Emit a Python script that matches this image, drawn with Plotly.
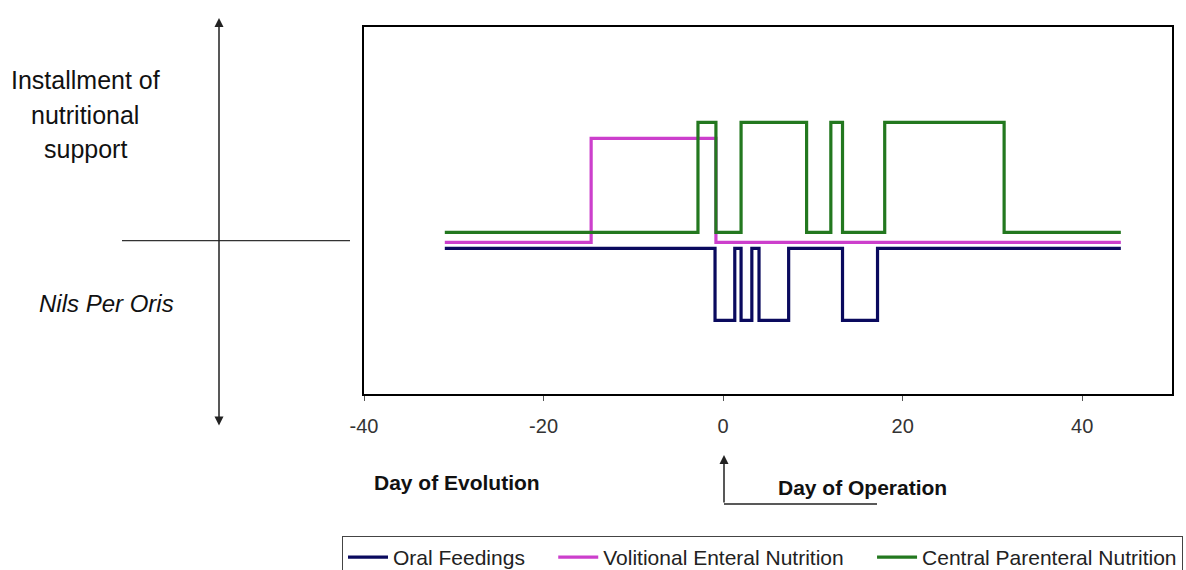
import plotly.graph_objects as go

# ---- data ----
oral_days = [-31, -0.9, 1.3, 2.0, 3.2, 4.0, 7.3, 13.3, 17.2, 44.3]
oral_level = [0, -0.72, 0, -0.72, 0, -0.72, 0, -0.72, 0, 0]

enteral_days = [-31, -14.7, -0.8, 44.3]
enteral_level = [0.06, 1.1, 0.06, 0.06]

parenteral_days = [-31, -2.8, -0.8, 2.0, 9.3, 12.0, 13.3, 18.0, 31.3, 44.3]
parenteral_level = [0.16, 1.26, 0.16, 1.26, 0.16, 1.26, 0.16, 1.26, 0.16, 0.16]

x_ticks = [-40, -20, 0, 20, 40]
x_tick_labels = ["-40", "-20", "0", "20", "40"]

series_names = ["Oral Feedings", "Volitional Enteral Nutrition", "Central Parenteral Nutrition"]
colors = ["#0a0a5e", "#cc3fcc", "#23781f"]

W, H = 1186, 570
L, R, T, B = 364, 1172, 27, 394  # plot area in pixels


def px(x):
    return (x - L) / (R - L)


def py(y):
    return (B - y) / (B - T)


FONT = "Liberation Sans, Arial, sans-serif"
NB = "\u00a0"
legend_pad = [NB * 4, NB * 4, ""]

fig = go.Figure()
for xs, ys, name, c, pad in [
    (oral_days, oral_level, series_names[0], colors[0], legend_pad[0]),
    (enteral_days, enteral_level, series_names[1], colors[1], legend_pad[1]),
    (parenteral_days, parenteral_level, series_names[2], colors[2], legend_pad[2]),
]:
    fig.add_trace(go.Scatter(x=xs, y=ys, mode="lines", name=name + pad,
                             line=dict(color=c, width=3.2, shape="hv")))

fig.update_layout(
    width=W, height=H, autosize=False,
    margin=dict(l=L, r=W - R, t=T, b=H - B, pad=0, autoexpand=False),
    paper_bgcolor="white", plot_bgcolor="white",
    font=dict(family=FONT, color="#222"),
    showlegend=True,
    legend=dict(orientation="h", x=px(342), y=py(536), xanchor="left", yanchor="top",
                bordercolor="#444", borderwidth=1, font=dict(size=21, color="#222"),
                itemwidth=40, tracegroupgap=0),
    xaxis=dict(range=[-40, 50], tickvals=x_ticks, ticktext=x_tick_labels,
               ticks="outside", ticklen=5, automargin=False,
               tickwidth=1, tickcolor="#555", showgrid=False, zeroline=False,
               showline=True, linecolor="black", linewidth=2, mirror=True,
               tickfont=dict(size=20, color="#333"), ticklabelstandoff=8),
    yaxis=dict(range=[-1.457, 2.213], showticklabels=False, ticks="", showgrid=False,
               automargin=False,
               zeroline=False, showline=True, linecolor="black", linewidth=2, mirror=True),
)

# left cross axes
fig.add_shape(type="line", xref="paper", yref="paper",
              x0=px(122), x1=px(350), y0=py(240.7), y1=py(240.7),
              line=dict(color="#333", width=1.3))
fig.add_annotation(xref="paper", yref="paper", x=px(219), y=py(18), text="",
                   showarrow=True, axref="pixel", ayref="pixel", ax=0, ay=409,
                   arrowside="end+start", arrowhead=2, arrowsize=1.2, arrowwidth=1.5,
                   arrowcolor="#222")

# left labels
for txt, yc in [("Installment of", 80), ("nutritional", 115), ("support", 149)]:
    fig.add_annotation(xref="paper", yref="paper", x=px(85), y=py(yc), text=txt,
                       showarrow=False, xanchor="center", yanchor="middle",
                       font=dict(size=25, color="#111", family=FONT))
fig.add_annotation(xref="paper", yref="paper", x=px(106), y=py(303), text="<i>Nils Per Oris</i>",
                   showarrow=False, xanchor="center", yanchor="middle",
                   font=dict(size=24, color="#111", family=FONT))

# bottom labels
fig.add_annotation(xref="paper", yref="paper", x=px(457), y=py(482), text="<b>Day of Evolution</b>",
                   showarrow=False, xanchor="center", yanchor="middle",
                   font=dict(size=21, color="#111", family=FONT))
fig.add_annotation(xref="paper", yref="paper", x=px(862), y=py(487), text="<b>Day of Operation</b>",
                   showarrow=False, xanchor="center", yanchor="middle",
                   font=dict(size=21, color="#111", family=FONT))
fig.add_annotation(xref="paper", yref="paper", x=px(724), y=py(455), text="",
                   showarrow=True, axref="pixel", ayref="pixel", ax=0, ay=49,
                   arrowhead=2, arrowsize=1.2, arrowwidth=1.5, arrowcolor="#222")
fig.add_shape(type="line", xref="paper", yref="paper",
              x0=px(724), x1=px(877), y0=py(504), y1=py(504),
              line=dict(color="#222", width=1.5))

fig.write_html("out.html", config={"displayModeBar": False, "responsive": False},
               post_script="document.body.style.margin='0px';")
